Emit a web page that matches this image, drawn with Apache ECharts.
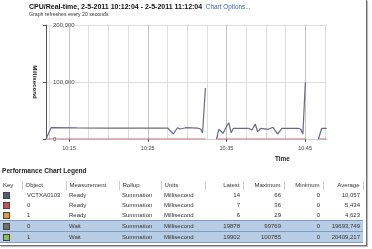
<!DOCTYPE html>
<html>
<head>
<meta charset="utf-8">
<script src="https://cdn.jsdelivr.net/npm/echarts@6/dist/echarts.min.js"></script>
<style>
  body { margin: 0; background: #fff; font-family: 'Liberation Sans', Arial, sans-serif; }
  #page { position: relative; width: 372px; height: 249px; overflow: hidden; }
  #main { position: absolute; left: 0; top: 0; width: 372px; height: 249px; }
  #frame { position: absolute; left: 0; top: 0; width: 366px; height: 245px;
           border-right: 1px solid #6e6e6e; border-bottom: 1px solid #6e6e6e;
           box-shadow: 1px 1px 1px #bbb; pointer-events: none; }
  #legendTitle { position: absolute; left: 2px; top: 167px; font-weight: bold; font-size: 6.6px; color: #222; }
  #legend { position: absolute; left: 0; top: 181px; width: 363px; border-collapse: collapse;
            table-layout: fixed; font-size: 6px; color: #333; }
  #legend td, #legend th { height: 10px; padding: 0 3px; white-space: nowrap; overflow: hidden;
                           font-weight: normal; line-height: 10px; }
  #legend th { text-align: left; border-right: 1px solid #ccc; height: 9px; line-height: 9px; }
  #legend th.num, #legend td.num { text-align: right; }
  #legend tr.sel td { background: #b8cce4; border-top: 1px solid #7d9ccc; border-bottom: 1px solid #7d9ccc; }
  .key { display: inline-block; width: 5px; height: 5px; border: 1px solid #444; vertical-align: middle; }
</style>
</head>
<body>
<div id="page">
  <div id="main"></div>
  <div id="legendTitle">Performance Chart Legend</div>
  <table id="legend"></table>
  <div id="frame"></div>
</div>
<script>
// Wait series (the visible grey line), time as hh:mm:ss, '-' = no sample
const waitTimes = ['10:12:04','10:12:43','10:16:00','10:20:00','10:24:00',
  '10:27:32','10:28:15','10:28:46','10:29:11','10:29:49',
  '10:31:20','10:31:43','10:31:58','10:32:20','10:33:00',
  '10:33:44','10:34:02','10:34:35','10:34:58','10:35:17',
  '10:35:36','10:35:53','10:36:50','10:37:47','10:38:15',
  '10:38:40','10:38:58','10:39:23','10:40:21','10:40:55',
  '10:41:30','10:42:03','10:43:00','10:44:09','10:44:27',
  '10:44:43','10:45:02','10:45:40','10:46:41','10:47:07','10:47:45'];
const waitValues = [0,19800,19500,19200,19000,
  19300,8800,19800,17500,19800,
  19000,17500,10500,89500,'-',
  0,17000,10000,20500,28600,
  11000,18800,18500,18800,15800,
  26300,12800,18800,17000,20500,
  8600,18800,18900,18800,17000,
  8600,99500,'-',0,18800,18800];

// Ready series (red line along zero)
const readyTimes = ['10:12:04','10:32:20','10:33:00','10:33:44','10:45:02','10:45:40','10:46:41','10:47:45'];
const readyValues = [0,0,'-',0,0,'-',0,0];

const xStart = '10:12:04';
const xEnd = '10:47:47';
const xLabelTimes = ['10:15','10:25','10:35','10:45'];
const xGridTimes = ['10:12:30','10:15','10:17:30','10:20','10:22:30','10:25','10:27:30','10:30',
  '10:32:30','10:35','10:37:30','10:40','10:42:30','10:45','10:47:30'];
const yLabelValues = [0, 100000, 200000];

// legend table
const legendKeys = ['#4f5a7c','#c9504e','#e39a3c','#6f6f6f','#8cc152'];
const legendObjects = ['VCTXA0103','0','1','0','1'];
const legendMeasurements = ['Ready','Ready','Ready','Wait','Wait'];
const legendRollups = ['Summation','Summation','Summation','Summation','Summation'];
const legendUnits = ['Millisecond','Millisecond','Millisecond','Millisecond','Millisecond'];
const legendLatest = ['14','7','6','19878','19902'];
const legendMaximum = ['66','36','29','99769','100785'];
const legendMinimum = ['0','0','0','0','0'];
const legendAverage = ['10,057','5,434','4,623','19693,749','20409,217'];
const selectedRows = [3, 4];

function toMin(s) {
  const p = s.split(':').map(Number);
  return (p[0] - 10) * 60 + p[1] + (p[2] || 0) / 60;
}
function pairs(times, values) {
  return times.map((t, i) => [toMin(t), values[i]]);
}

const font = "'Liberation Sans', Arial, sans-serif";
const chart = echarts.init(document.getElementById('main'));
chart.setOption({
  animation: false,
  textStyle: { fontFamily: font },
  title: {
    left: 29, top: 3, padding: 0,
    text: '{b|CPU/Real-time, 2-5-2011 10:12:04 - 2-5-2011 11:12:04} {a|Chart Options...}\n{s|Graph refreshes every 20 seconds}',
    textStyle: {
      fontSize: 6, lineHeight: 8, fontWeight: 'normal',
      rich: {
        b: { fontWeight: 'bold', fontSize: 7, lineHeight: 8, color: '#111', fontFamily: font },
        a: { fontSize: 6.4, lineHeight: 8, color: '#3a66d0', fontFamily: font, padding: [0, 0, 0, 2] },
        s: { fontSize: 5.2, lineHeight: 7, color: '#333', fontFamily: font }
      }
    }
  },
  grid: { left: 46, top: 25, width: 281, height: 114 },
  xAxis: {
    type: 'value',
    min: toMin(xStart), max: toMin(xEnd),
    axisLine: { show: true, lineStyle: { color: '#cfcfcf' } },
    axisTick: { show: true, customValues: xLabelTimes.map(toMin), length: 3, lineStyle: { color: '#555' } },
    axisLabel: {
      customValues: xLabelTimes.map(toMin),
      formatter: v => '10:' + String(Math.round(v)).padStart(2, '0'),
      fontSize: 5.5, color: '#444', margin: 6
    },
    splitLine: { show: false },
    name: 'Time', nameLocation: 'end', nameGap: -52,
    nameTextStyle: { fontWeight: 'bold', fontSize: 6.4, color: '#222', align: 'left',
                     verticalAlign: 'top', padding: [17, 0, 0, 0] }
  },
  yAxis: {
    type: 'value', min: 0, max: 200000, interval: 25000,
    axisLine: { show: true, lineStyle: { color: '#555' } },
    axisTick: { show: true, customValues: yLabelValues, length: 3, lineStyle: { color: '#555' } },
    axisLabel: {
      customValues: yLabelValues, inside: true, margin: 6,
      fontSize: 6, color: '#444', backgroundColor: '#fff', padding: [0, 1, 0, 1]
    },
    splitLine: { show: true, lineStyle: { color: ['#c4c4c4', '#dedede', '#dedede', '#dedede'] } },
    name: 'Millisecond', nameLocation: 'middle', nameRotate: -90, nameGap: 8,
    nameTextStyle: { fontWeight: 'bold', fontSize: 6.2, color: '#222' }
  },
  series: [
    {
      name: 'Ready', type: 'line', z: 3, showSymbol: false, connectNulls: false,
      lineStyle: { color: '#c86464', width: 1 },
      data: pairs(readyTimes, readyValues),
      markLine: {
        z: 1, silent: true, symbol: 'none', label: { show: false }, animation: false,
        data: xGridTimes.map(t => ({
          xAxis: toMin(t),
          lineStyle: { type: 'solid', width: 1, color: xLabelTimes.includes(t) ? '#c4c4c4' : '#dedede' }
        }))
      }
    },
    {
      name: 'Wait', type: 'line', z: 4, showSymbol: false, connectNulls: false,
      lineStyle: { color: '#68688c', width: 1.2 },
      data: pairs(waitTimes, waitValues)
    }
  ]
});

// legend table under the chart
const table = document.getElementById('legend');
const widths = [22, 44, 53, 42, 44, 38, 41, 39, 40];
const heads = ['Key','Object','Measurement','Rollup','Units','Latest','Maximum','Minimum','Average'];
let html = '<colgroup>' + widths.map(w => '<col style="width:' + w + 'px">').join('') + '</colgroup>';
html += '<tr>' + heads.map((h, i) => '<th' + (i >= 5 ? ' class="num"' : '') + '>' + h + '</th>').join('') + '</tr>';
legendObjects.forEach((obj, i) => {
  html += '<tr' + (selectedRows.includes(i) ? ' class="sel"' : '') + '>' +
    '<td><span class="key" style="background:' + legendKeys[i] + '"></span></td>' +
    '<td style="padding-left:5px">' + obj + '</td>' +
    '<td>' + legendMeasurements[i] + '</td>' +
    '<td>' + legendRollups[i] + '</td>' +
    '<td>' + legendUnits[i] + '</td>' +
    '<td class="num">' + legendLatest[i] + '</td>' +
    '<td class="num">' + legendMaximum[i] + '</td>' +
    '<td class="num">' + legendMinimum[i] + '</td>' +
    '<td class="num">' + legendAverage[i] + '</td></tr>';
});
table.innerHTML = html;
</script>
</body>
</html>
